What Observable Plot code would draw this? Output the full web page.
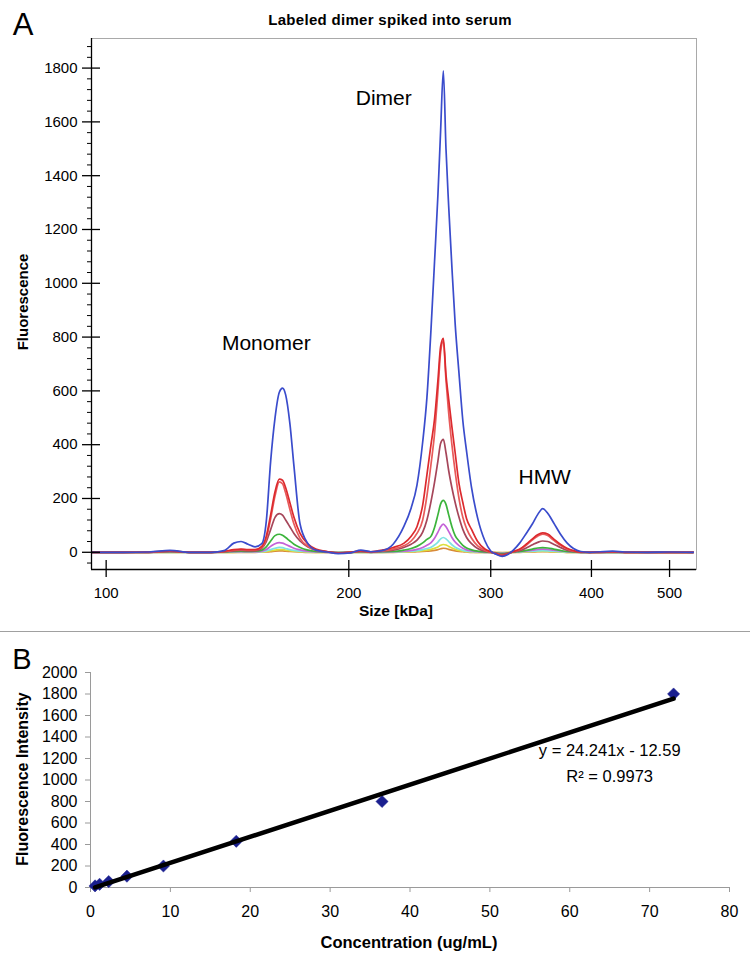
<!DOCTYPE html>
<html><head><meta charset="utf-8">
<script src="https://cdn.jsdelivr.net/npm/d3@7"></script>
<script src="https://cdn.jsdelivr.net/npm/@observablehq/plot@0.6"></script>
<style>
body{margin:0;background:#fff;}
#wrap{position:relative;width:750px;height:963px;font-family:"Liberation Sans",Arial,sans-serif;color:#000;overflow:hidden;background:#fff}
.t{position:absolute;white-space:nowrap;line-height:1;transform:translate(-50%,-50%);}
.abs{position:absolute;left:0;}
</style></head><body><div id="wrap"></div>
<script>
// ---------- Panel A data: size grid (kDa) and fluorescence traces ----------
const sizes = [96, 105, 113, 120, 127, 135, 140, 144, 147, 150,
  153, 156, 158, 160, 162, 164, 165.5, 167, 169, 171,
  174, 178, 182, 188, 194, 201, 207, 213, 220, 227,
  234, 239, 243, 247, 250, 253, 255.5, 258, 260, 262,
  264, 266, 268.5, 271, 274, 277, 280, 284, 289, 295,
  300, 305, 310, 315, 320, 326, 332, 338, 343, 348,
  353, 359, 366, 373, 380, 388, 398, 410, 425, 440,
  470, 500, 535];
const blue = [0, 0, 1, 7, 0, 0, 6, 34, 40, 30,
  20, 32, 115, 340, 500, 595, 610, 585, 480, 320,
  105, 32, 8, 1, -5, -2, 8, 2, 6, 30,
  95, 165, 250, 410, 575, 835, 1080, 1330, 1570, 1790,
  1500, 1290, 1060, 850, 665, 490, 375, 240, 127, 43,
  5, -8, -15, -8, 8, 35, 70, 106, 140, 162,
  145, 110, 68, 35, 14, 3, 0, 2, 4, 1,
  0, 1, 0];
const red = [0, 0, 1, 5, 0, 0, 3, 10, 12, 10,
  10, 22, 60, 140, 225, 272, 268, 240, 185, 130,
  70, 30, 12, 3, -3, 0, 5, 2, 8, 18,
  33, 60, 95, 175, 288, 403, 495, 640, 765, 795,
  660, 570, 466, 370, 255, 185, 125, 85, 40, 12,
  2, -6, -12, -6, 3, 12, 30, 50, 65, 72,
  68, 50, 30, 15, 6, 1, 0, 1, 2, 0,
  0, 0, 0];
const red2 = [0, 0, 0, 4, 0, 0, 2, 8, 10, 8,
  8, 18, 50, 125, 210, 262, 255, 220, 160, 105,
  52, 22, 8, 2, -3, 0, 4, 1, 5, 12,
  24, 42, 70, 120, 210, 330, 440, 600, 745, 785,
  640, 520, 400, 300, 200, 130, 88, 52, 24, 8,
  0, -6, -11, -6, 2, 10, 26, 46, 60, 67,
  62, 45, 26, 12, 4, 1, 0, 0, 1, 0,
  0, 0, 0];
const brown = [0, 0, 0, 3, 0, 0, 2, 5, 7, 5,
  5, 15, 40, 85, 130, 144, 138, 120, 95, 70,
  42, 20, 8, 2, -2, 0, 3, 1, 4, 8,
  18, 30, 45, 75, 120, 190, 260, 340, 405, 420,
  370, 305, 240, 185, 130, 85, 55, 32, 14, 4,
  0, -4, -8, -4, 2, 6, 16, 28, 37, 42,
  40, 30, 18, 8, 3, 0, 0, 0, 1, 0,
  0, 0, 0];
const green = [0, 0, 0, 2, 0, 0, 1, 3, 4, 3,
  4, 8, 20, 42, 62, 67, 63, 55, 42, 30,
  18, 8, 3, 1, -1, 0, 2, 0, 2, 3,
  8, 14, 22, 35, 48, 60, 92, 140, 180, 193,
  178, 140, 95, 62, 42, 26, 16, 9, 4, 1,
  0, -3, -5, -3, 1, 3, 7, 12, 16, 17,
  16, 12, 7, 3, 1, 0, 0, 0, 0, 0,
  0, 0, 0];
const magenta = [0, 0, 0, 1, 0, 0, 1, 2, 2, 2,
  2, 4, 10, 22, 32, 36, 34, 29, 22, 15,
  9, 4, 1, 0, -1, 0, 1, 0, 1, 2,
  4, 7, 11, 18, 26, 36, 52, 75, 95, 105,
  95, 78, 55, 38, 25, 15, 9, 5, 2, 0,
  0, -2, -4, -2, 1, 3, 5, 8, 11, 12,
  11, 8, 5, 2, 1, 0, 0, 0, 0, 0,
  0, 0, 0];
const cyan = [0, 0, 0, 0, 0, 0, 0, 1, 1, 1,
  1, 2, 5, 10, 15, 18, 17, 14, 10, 7,
  4, 2, 1, 0, -1, 0, 0, 0, 0, 1,
  2, 4, 6, 10, 14, 19, 27, 38, 50, 55,
  50, 40, 28, 19, 12, 7, 4, 2, 1, 0,
  0, -2, -3, -2, 0, 1, 3, 4, 5, 6,
  5, 4, 2, 1, 0, 0, 0, 0, 0, 0,
  0, 0, 0];
const yellow = [0, 0, 0, 0, 0, 0, 0, 0, 1, 1,
  1, 1, 3, 6, 8, 10, 10, 8, 6, 4,
  2, 1, 0, 0, -1, 0, 0, 0, 0, 1,
  1, 2, 4, 6, 8, 11, 15, 20, 26, 29,
  27, 22, 16, 11, 7, 4, 2, 1, 0, 0,
  0, -1, -2, -1, 0, 1, 2, 3, 3, 4,
  3, 2, 1, 0, 0, 0, 0, 0, 0, 0,
  0, 0, 0];
const orange = [0, 0, 0, 0, 0, 0, 0, 0, 0, 0,
  0, 1, 1, 2, 4, 5, 5, 4, 3, 2,
  1, 0, 0, 0, -1, 0, 0, 0, 0, 0,
  1, 1, 2, 3, 4, 5, 7, 10, 13, 15,
  14, 11, 8, 5, 3, 2, 1, 0, 0, 0,
  0, -1, -1, -1, 0, 0, 1, 1, 2, 2,
  2, 1, 1, 0, 0, 0, 0, 0, 0, 0,
  0, 0, 0];
const seriesNames = ["orange", "yellow", "cyan", "magenta", "green", "brown", "red2", "red", "blue"];
const seriesColors = ["#d98a3a", "#dede3c", "#7fe3e3", "#c462d8", "#3cb43c", "#a6465a", "#e85a5a", "#dc2a2e", "#3a4ccc"];
const seriesValues = [orange, yellow, cyan, magenta, green, brown, red2, red, blue];

const xTicksA = [100, 200, 300, 400, 500];
const yTicksA = [0, 200, 400, 600, 800, 1000, 1200, 1400, 1600, 1800];
const annLabels = ["Monomer", "Dimer", "HMW"];
const annSize = [158, 221, 350];
const annValue = [776, 1687, 278];

// ---------- Panel B data ----------
const conc = [0.57, 1.14, 2.28, 4.56, 9.13, 18.25, 36.5, 73];
const intensity = [15, 30, 55, 105, 200, 430, 800, 1800];
const slope = 24.241, intercept = -12.59;
const xTicksB = [0, 10, 20, 30, 40, 50, 60, 70, 80];
const yTicksB = [0, 200, 400, 600, 800, 1000, 1200, 1400, 1600, 1800, 2000];

const wrap = document.getElementById("wrap");
function addText(txt, x, y, opts = {}) {
  const d = document.createElement("div");
  d.className = "t";
  d.innerHTML = txt;
  d.style.left = x + "px";
  d.style.top = y + "px";
  d.style.fontSize = (opts.size || 15) + "px";
  d.style.fontWeight = opts.weight || "normal";
  if (opts.ls) d.style.letterSpacing = opts.ls + "px";
  if (opts.rotate) d.style.transform = "translate(-50%,-50%) rotate(" + opts.rotate + "deg)";
  wrap.appendChild(d);
}
const plain = d => String(d);

// ---------- Panel A ----------
const xDomA = [95.9, 540], yDomA = [-64, 1910];
const minorA = d3.range(-40, 1900, 40).filter(v => v % 200 !== 0);
const lineMarks = seriesValues.map((vals, k) =>
  Plot.line(sizes.map((s, i) => ({size: s, value: vals[i]})),
    {x: "size", y: "value", stroke: seriesColors[k], strokeWidth: 1.7, curve: "monotone-x"}));
const ann = annLabels.map((l, i) => ({label: l, size: annSize[i], value: annValue[i]}));

const plotA = Plot.plot({
  width: 750, height: 632,
  marginLeft: 91, marginRight: 54, marginTop: 38, marginBottom: 63,
  x: {type: "log", domain: xDomA},
  y: {domain: yDomA},
  style: {fontFamily: "'Liberation Sans', Arial, sans-serif", fontSize: "15px", background: "transparent", overflow: "visible"},
  marks: [
    Plot.frame({stroke: "#a9a9a9"}),
    ...lineMarks,
    Plot.ruleX([xDomA[0]], {stroke: "#000", strokeWidth: 1.3}),
    Plot.ruleY([yDomA[0]], {stroke: "#000", strokeWidth: 1.3}),
    Plot.axisY(minorA, {tickSize: 4, tickFormat: () => "", label: null}),
    Plot.axisY(yTicksA, {tickSize: 18, dx: 9, tickFormat: () => "", label: null, strokeWidth: 1.3}),
    Plot.axisY(yTicksA, {tickSize: 0, tickPadding: 14, label: null, fontSize: 15, tickFormat: plain}),
    Plot.axisX(xTicksA, {tickSize: 17, dy: -9, tickFormat: () => "", label: null, strokeWidth: 1.3}),
    Plot.axisX(xTicksA, {tickSize: 0, tickPadding: 18, label: null, tickFormat: plain, fontSize: 15}),
    Plot.text(ann, {x: "size", y: "value", text: "label", fontSize: 21})
  ]
});
plotA.classList.add("abs");
plotA.style.top = "0px";
wrap.appendChild(plotA);

// ---------- Panel B ----------
const pts = conc.map((c, i) => ({conc: c, val: intensity[i]}));
const xMin = d3.min(conc), xMax = d3.max(conc);
const trend = [xMin, xMax].map(c => ({conc: c, val: slope * c + intercept}));
const plotB = Plot.plot({
  width: 750, height: 331,
  marginLeft: 90, marginRight: 21, marginTop: 40, marginBottom: 76,
  x: {domain: [0, 80]},
  y: {domain: [0, 2000]},
  style: {fontFamily: "'Liberation Sans', Arial, sans-serif", fontSize: "16px", background: "transparent", overflow: "visible"},
  marks: [
    Plot.ruleX([0], {stroke: "#9a9a9a"}),
    Plot.ruleY([0], {stroke: "#9a9a9a"}),
    Plot.axisY(yTicksB, {tickSize: 5, tickPadding: 8, stroke: "#9a9a9a", label: null, fontSize: 16, tickFormat: plain}),
    Plot.axisX(xTicksB, {tickSize: 5, tickPadding: 13, stroke: "#9a9a9a", label: null, fontSize: 16, tickFormat: plain}),
    Plot.dot(pts, {x: "conc", y: "val", symbol: "diamond2", r: 5.5, fill: "#1a1f8f", stroke: "#1a1f8f", strokeWidth: 0.5}),
    Plot.line(trend, {x: "conc", y: "val", stroke: "#000", strokeWidth: 4.5}),
    Plot.text([`y = ${slope}x - ${Math.abs(intercept)}`], {x: 65, y: 1272, fontSize: 16.5}),
    Plot.text([`R² = 0.9973`], {x: 65, y: 1030, fontSize: 16.5})
  ]
});
plotB.classList.add("abs");
plotB.style.top = "632px";
wrap.appendChild(plotB);

// separator line
const sep = document.createElement("div");
sep.style.cssText = "position:absolute;left:0;top:631px;width:750px;height:0;border-top:1.5px solid #a0a0a0;";
wrap.appendChild(sep);

// ---------- Titles, labels ----------
addText("A", 23, 24, {size: 31});
addText("Labeled dimer spiked into serum", 390, 19, {size: 15, weight: "bold", ls: 0.3});
addText("Fluorescence", 22, 302, {size: 15, weight: "bold", rotate: -90});
addText("Size [kDa]", 396, 611, {size: 15.5, weight: "bold"});
addText("B", 22, 659, {size: 29});
addText("Fluorescence Intensity", 22.5, 779, {size: 16, weight: "bold", rotate: -90});
addText("Concentration (ug/mL)", 409, 942, {size: 16.5, weight: "bold"});
</script></body></html>
